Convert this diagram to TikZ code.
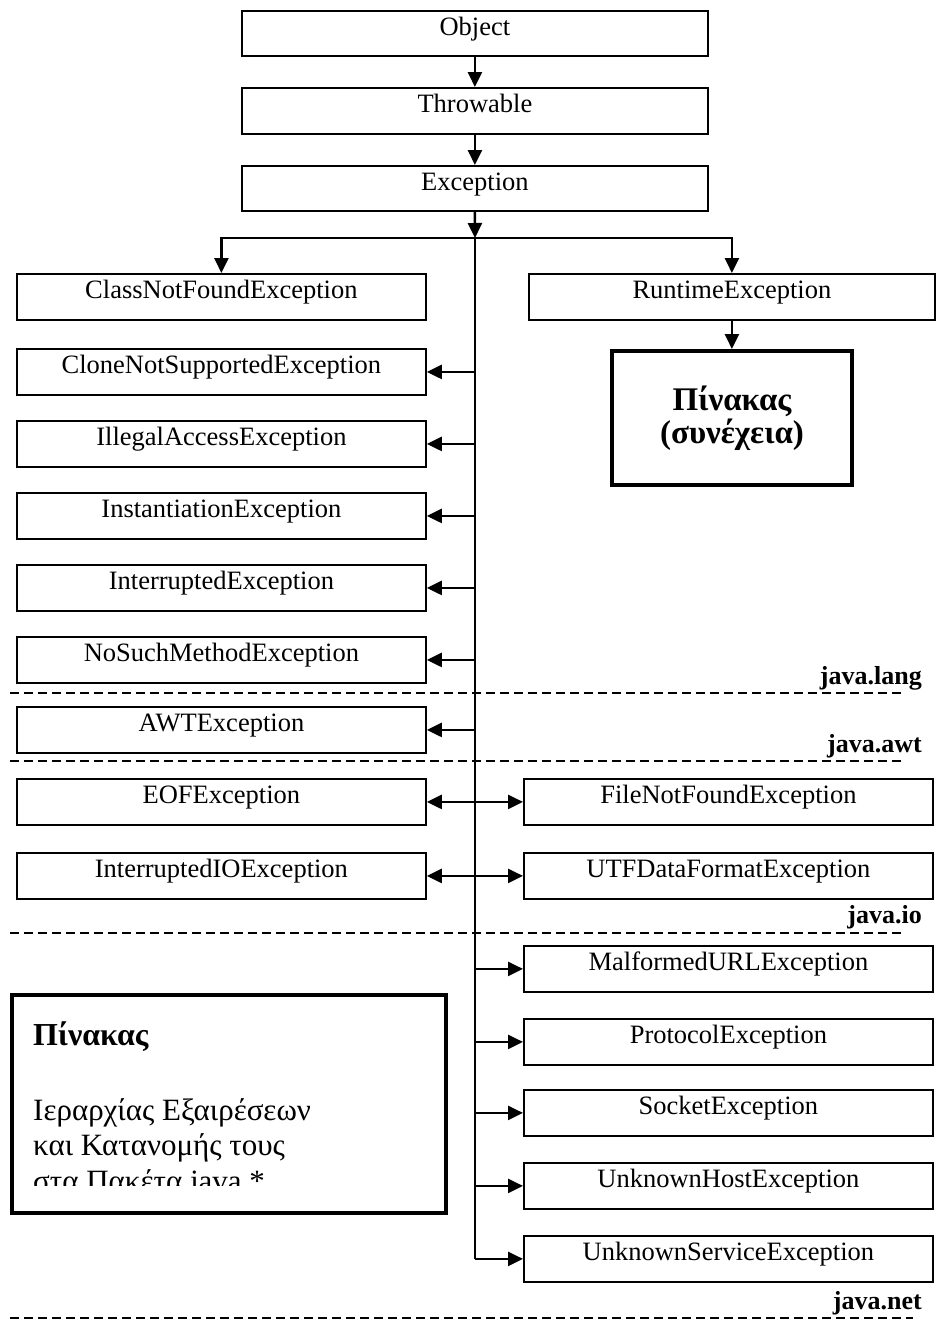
\documentclass[tikz,border=0pt]{standalone}
\usepackage{fontspec}
\setmainfont{Liberation Serif}
\usetikzlibrary{arrows.meta}
\begin{document}
\begin{tikzpicture}[x=1pt,y=-1pt,
  cls/.style={draw, line width=1.8pt, anchor=north west, inner sep=0pt,
    font=\fontsize{26.5}{30}\selectfont, text height=15pt, text depth=11pt},
  topcls/.style={cls, minimum width=466pt, minimum height=45pt},
  leftcls/.style={cls, minimum width=409pt, minimum height=46pt},
  rightcls/.style={cls, minimum width=409pt, minimum height=46pt},
  tip/.style={Triangle[length=15pt,width=14pt]},
  arr/.style={line width=2.5pt, -{Triangle[length=15pt,width=14pt]}},
  dblarr/.style={line width=2.5pt, {Triangle[length=15pt,width=14pt]}-{Triangle[length=15pt,width=14pt]}},
  trunk/.style={line width=1.8pt},
  pkgsep/.style={line width=1.6pt, dash pattern=on 9pt off 5pt},
  pkg/.style={anchor=base east, inner sep=0pt, font=\fontsize{26}{30}\selectfont\bfseries},
  tablebox/.style={draw, line width=4pt, inner sep=0pt}
]
\useasboundingbox (0,0) rectangle (935,1320);

% root of the hierarchy
\node[topcls] (obj) at (241,10)  {Object};
\node[topcls, minimum height=46pt] (thr) at (241,87) {Throwable};
\node[topcls] (exc) at (241,165) {Exception};

% java.lang
\node[leftcls] (cnf)     at (16,273) {ClassNotFoundException};
\node[cls, minimum width=406pt, minimum height=46pt] (rte) at (528,273) {RuntimeException};
\node[leftcls] (clone)   at (16,348) {CloneNotSupportedException};
\node[leftcls] (illegal) at (16,420) {IllegalAccessException};
\node[leftcls] (inst)    at (16,492) {InstantiationException};
\node[leftcls] (intr)    at (16,564) {InterruptedException};
\node[leftcls] (nosuch)  at (16,636) {NoSuchMethodException};

% continuation table
\node[tablebox, minimum width=240pt, minimum height=134pt, align=center,
  font=\fontsize{33}{33}\selectfont\bfseries] (tbl) at (732,418)
  {Πίνακας\\(συνέχεια)};

% java.awt
\node[leftcls] (awt) at (16,706) {AWTException};

% java.io
\node[leftcls]  (eof)    at (16,778)  {EOFException};
\node[leftcls]  (intrio) at (16,852)  {InterruptedIOException};
\node[rightcls] (fnf)    at (523,778) {FileNotFoundException};
\node[rightcls] (utf)    at (523,852) {UTFDataFormatException};

% java.net
\node[rightcls] (murl)  at (523,945)  {MalformedURLException};
\node[rightcls] (proto) at (523,1018) {ProtocolException};
\node[rightcls] (sock)  at (523,1089) {SocketException};
\node[rightcls] (uhost) at (523,1162) {UnknownHostException};
\node[rightcls] (usvc)  at (523,1235) {UnknownServiceException};

% connectors
\coordinate (branch) at (475,238);
\draw[arr] (obj.south) -- (thr.north);
\draw[arr] (thr.south) -- (exc.north);
\draw[arr] (exc.south) -- (branch);
\draw[arr] (branch) -| (cnf.north);
\draw[arr] (branch) -| (rte.north);
\draw[arr] (rte.south) -- (rte.south |- tbl.north);
\draw[trunk] (branch) -- (branch |- usvc.west);
\draw[arr] (branch |- usvc.west) -- (usvc.west);

\foreach \n in {clone,illegal,inst,intr,nosuch,awt}
  \draw[arr] (branch |- \n.east) -- (\n.east);
\draw[dblarr] (eof.east) -- (fnf.west);
\draw[dblarr] (intrio.east) -- (utf.west);
\foreach \n in {murl,proto,sock,uhost}
  \draw[arr] (branch |- \n.west) -- (\n.west);

% package separators
\draw[pkgsep] (10,693) -- (905,693);
\node[pkg] (plang) at (922,684) {java.lang};
\draw[pkgsep] (10,761) -- (905,761);
\node[pkg] (pawt) at (922,752) {java.awt};
\draw[pkgsep] (10,933) -- (905,933);
\node[pkg] (pio) at (922,923) {java.io};
\draw[pkgsep] (10,1318) -- (913,1318);
\node[pkg] (pnet) at (922,1309) {java.net};

% caption box
\begin{scope}
  \clip (12,995) rectangle (443,1185);
  \node[anchor=base west, inner sep=0pt, font=\fontsize{32}{33}\selectfont\bfseries] (capt) at (33,1045) {Πίνακας};
  \node[anchor=base west, inner sep=0pt, font=\fontsize{31}{30}\selectfont] (capa) at (33,1120) {Ιεραρχίας Εξαιρέσεων};
  \node[anchor=base west, inner sep=0pt, font=\fontsize{31}{30}\selectfont] (capb) at (33,1155) {και Κατανομής τους};
  \node[anchor=base west, inner sep=0pt, font=\fontsize{31}{30}\selectfont] (capc) at (33,1191) {στα Πακέτα java.*};
\end{scope}
\node[draw, line width=3.5pt, anchor=north west, minimum width=434pt, minimum height=218pt, inner sep=0pt] (caption) at (10,993) {};
\end{tikzpicture}
\end{document}
